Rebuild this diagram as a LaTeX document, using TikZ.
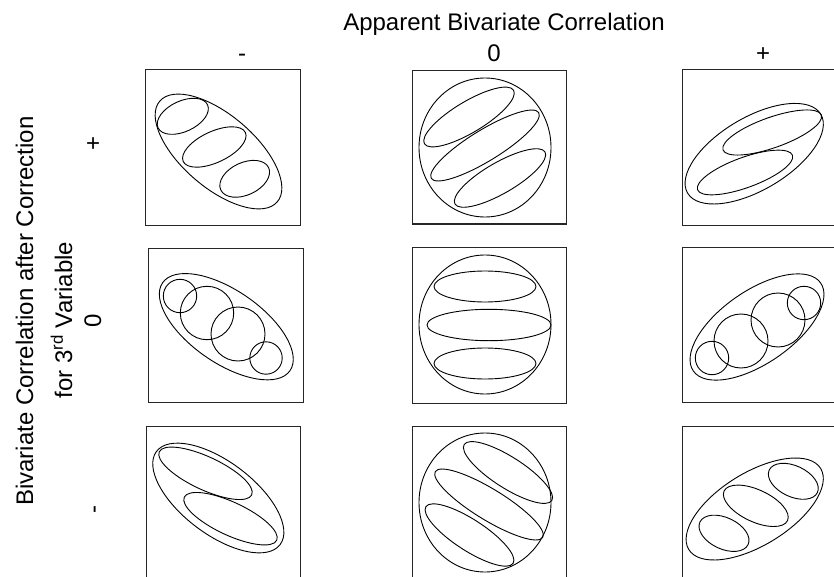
\documentclass[tikz,border=0pt]{standalone}
\usepackage{fontspec}
\setmainfont{Liberation Sans}
\newcommand\elp[5]{\draw[shp, rotate around={#5:(#1,#2)}] (#1,#2) ellipse [x radius=#3, y radius=#4];}
\begin{document}
\begin{tikzpicture}[x=1pt,y=-1pt,
  shp/.style={line width=0.9pt, black},
  panel/.style={draw=black!85, line width=1pt, minimum width=155pt, minimum height=155pt, inner sep=0pt},
  lbl/.style={font=\fontsize{24}{28}\selectfont, inner sep=0pt}]
\useasboundingbox (0,0) rectangle (834,577);
\clip (0,0) rectangle (834,577);
\fill[white] (0,0) rectangle (834,577);

% labels
\node[lbl, anchor=base] (title) at (504,31) {Apparent Bivariate Correlation};
\node[lbl, anchor=base] (cminus) at (242,62) {-};
\node[lbl, anchor=base] (czero) at (494,62) {0};
\node[lbl, anchor=base] (cplus) at (763,62) {+};
\node[lbl, rotate=90, anchor=base] (ylab) at (33,311) {Bivariate Correlation after Correction};
\node[lbl, rotate=90, anchor=base] (ylabb) at (72,320) {for 3\textsuperscript{rd} Variable};
\node[lbl, rotate=90, anchor=base] (rplus) at (101,143) {+};
\node[lbl, rotate=90, anchor=base] (rzero) at (101,321) {0};
\node[lbl, rotate=90, anchor=base] (rminus) at (101,509.5) {-};

% panels
\node[panel] (p11) at (222.5,147.5) {};
\node[panel, minimum width=154pt, minimum height=153pt] (p12) at (489,147.5) {};
\node[panel] (p13) at (759.5,147.5) {};
\node[panel, minimum height=154pt] (p21) at (225.5,325) {};
\node[panel, minimum width=154pt, minimum height=156pt] (p22) at (489,325) {};
\node[panel] (p23) at (759.5,324.5) {};
\node[panel, minimum width=154pt] (p31) at (223,503.5) {};
\node[panel, minimum width=154pt] (p32) at (489,503.5) {};
\node[panel] (p33) at (759.5,503.5) {};

% row 1
\elp{218.5}{151.5}{77.4}{36.3}{-40.6}
\elp{182.8}{116.3}{27.3}{15.3}{25}
\elp{214.3}{147}{34.3}{15.5}{25}
\elp{244.7}{178.8}{26.4}{16.2}{25}

\draw[shp] (485,147.5) ellipse [x radius=66, y radius=69.5];
\elp{469}{117}{52}{15.5}{31}
\elp{485}{145.5}{63}{15.5}{31.5}
\elp{500}{178}{52}{15.5}{30}

\elp{754.2}{153.7}{77.4}{36.3}{30.6}
\elp{772.2}{132.5}{52.2}{15.2}{19.5}
\elp{745}{172.5}{50.5}{15.1}{20}

% row 2
\elp{226.3}{326.7}{77.4}{36.3}{-34.6}
\draw[shp] (180,296) circle [radius=16.7];
\draw[shp] (207,313) circle [radius=26.7];
\draw[shp] (238,334) circle [radius=27];
\draw[shp] (266,358) circle [radius=16.2];

\draw[shp] (485,324.5) ellipse [x radius=66, y radius=69.5];
\draw[shp] (485,286.5) ellipse [x radius=51, y radius=15.5];
\draw[shp] (489,325) ellipse [x radius=62, y radius=15.7];
\draw[shp] (485,363.5) ellipse [x radius=51, y radius=15.5];

\elp{757}{327}{77.4}{36.3}{34.6}
\draw[shp] (712,358) circle [radius=16.7];
\draw[shp] (741,341) circle [radius=27];
\draw[shp] (778,320) circle [radius=27];
\draw[shp] (804,303) circle [radius=16.7];

% row 3
\elp{218.3}{498}{77.4}{36.3}{-37}
\elp{205.5}{473.3}{51}{16.5}{-25}
\elp{230.5}{518.7}{51}{16.5}{-25}

\draw[shp] (485,502.5) ellipse [x radius=66, y radius=69.5];
\elp{508}{472.5}{52}{15.5}{-32.6}
\elp{489}{504.5}{63}{15.5}{-31.5}
\elp{469.5}{535}{52}{15.5}{-33}

\elp{754.7}{509}{77.4}{36.3}{31.6}
\elp{793.3}{481.3}{26.6}{15.5}{-25}
\elp{755.8}{505.8}{35}{16}{-25}
\elp{724}{533.3}{26.6}{15.7}{-25}
\end{tikzpicture}
\end{document}
